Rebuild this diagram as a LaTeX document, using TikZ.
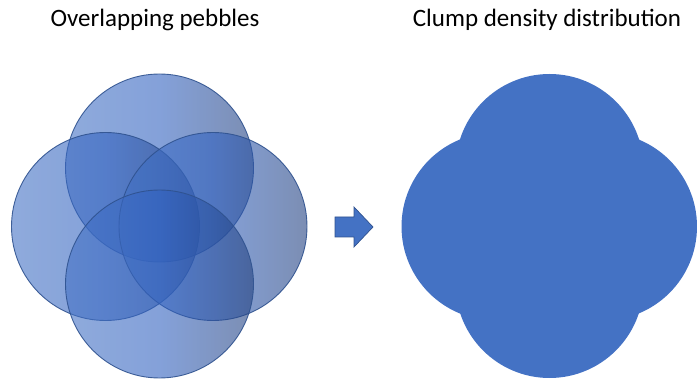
\documentclass[tikz,border=0pt]{standalone}
\usepackage{fontspec}
\setmainfont{Carlito}
\definecolor{cLeft}{RGB}{68,114,196}
\definecolor{cMid}{RGB}{50,98,192}
\definecolor{cRight}{RGB}{36,66,128}
\definecolor{edgeBlue}{RGB}{47,82,143}
\definecolor{solidBlue}{RGB}{68,114,196}
\begin{document}
\begin{tikzpicture}[x=1pt,y=1pt,
  pebble/.style={circle, minimum size=188pt, inner sep=0pt, draw=edgeBlue, line width=0.9pt,
    shade, left color=cLeft, right color=cRight, middle color=cMid, fill opacity=0.6, draw opacity=0.9},
  clump/.style={circle, minimum size=188pt, inner sep=0pt, fill=solidBlue},
  title/.style={font=\fontsize{25}{30}\selectfont, anchor=base, inner sep=0pt}]
\useasboundingbox (0,0) rectangle (697,378);
% titles
\node[title] (t1) at (155,351) {Overlapping pebbles};
\node[title] (t2) at (547,351) {Clump density distribution};
% overlapping pebbles
\node[pebble] (ptop) at (159.5,210) {};
\node[pebble] (pleft) at (105.5,151.5) {};
\node[pebble] (pright) at (213,151.5) {};
\node[pebble] (pbot) at (159.5,94) {};
% arrow
\draw[fill=solidBlue, draw=edgeBlue, line width=0.7pt]
  (335,161) -- (354,161) -- (354,171) -- (373,151) -- (354,131) -- (354,141) -- (335,141) -- cycle;
% clump
\node[clump] (ctop) at (549.5,210) {};
\node[clump] (cleft) at (495.5,151.5) {};
\node[clump] (cright) at (603,151.5) {};
\node[clump] (cbot) at (549.5,94) {};
\end{tikzpicture}
\end{document}
